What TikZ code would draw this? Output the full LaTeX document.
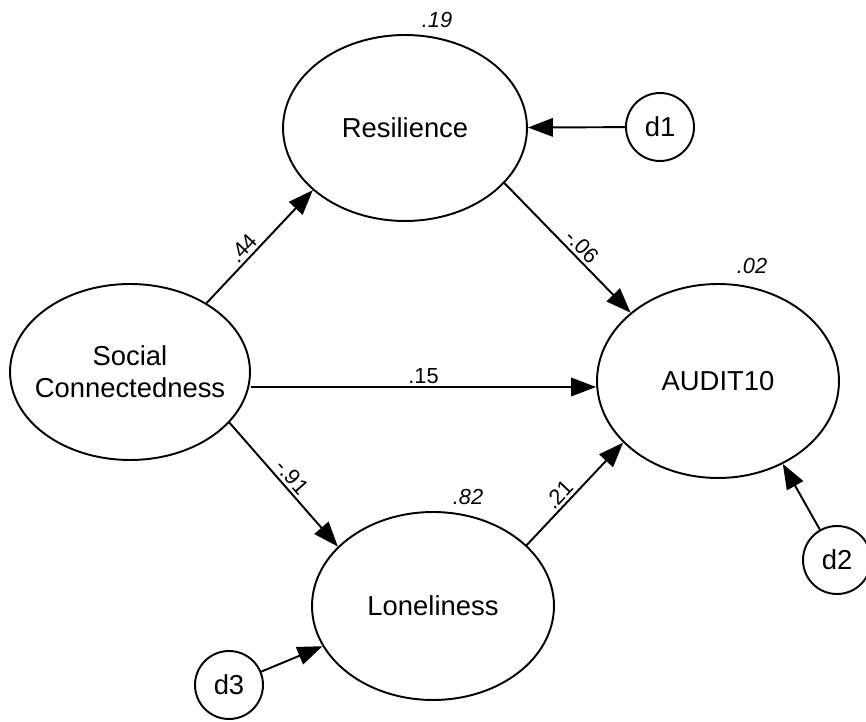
\documentclass[tikz,border=0pt]{standalone}
\usepackage{fontspec}
\setmainfont{Liberation Sans}
\usetikzlibrary{shapes.geometric,arrows.meta}
\begin{document}
\begin{tikzpicture}[x=0.02cm,y=-0.02cm,
  latent/.style={draw, ellipse, line width=1.1pt, inner sep=0pt},
  errvar/.style={draw, circle, line width=1.1pt, inner sep=0pt, minimum size=1.36cm,
    font=\fontsize{15.6}{18}\selectfont},
  regpath/.style={line width=1.1pt, -{Triangle[length=0.5cm,width=0.37cm]}},
  coef/.style={font=\fontsize{12.4}{14}\selectfont, inner sep=1.5pt},
  rsq/.style={font=\fontsize{12.4}{14}\selectfont\itshape},
  lbl/.style={font=\fontsize{15.6}{18}\selectfont, align=center}]
\useasboundingbox (0,0) rectangle (866,722);

% latent variables
\node[latent, minimum width=4.88cm, minimum height=3.72cm,
      label={[lbl]center:Resilience}] (res) at (405,128) {};
\node[latent, minimum width=4.80cm, minimum height=3.52cm,
      label={[lbl]center:Social\\Connectedness}] (sc) at (130,372) {};
\node[latent, minimum width=4.84cm, minimum height=3.88cm,
      label={[lbl]center:AUDIT10}] (aud) at (718,381) {};
\node[latent, minimum width=4.84cm, minimum height=3.76cm,
      label={[lbl]center:Loneliness}] (lon) at (433,606) {};

% disturbances
\node[errvar] (d1) at (660,127) {d1};
\node[errvar] (d2) at (837,560) {d2};
\node[errvar] (d3) at (229,685) {d3};

% squared multiple correlations
\node[rsq] (r1) at (437,20) {.19};
\node[rsq] (r2) at (752,266) {.02};
\node[rsq] (r3) at (468,497) {.82};

% structural paths
\draw[regpath] (sc.42) -- node[coef, sloped, above, pos=0.42] (p1) {.44} (res.214);
\draw[regpath] (res.-29) -- node[coef, sloped, above, pos=0.55] (p2) {-.06} (aud.142);
\draw[regpath] ([yshift=-0.3cm]sc.east) -- node[coef, above, pos=0.5] (p3) {.15}
  ([yshift=-0.12cm]aud.west);
\draw[regpath] (sc.-27) -- node[coef, sloped, above, pos=0.5] (p4) {-.91} (lon.148);
\draw[regpath] (lon.33) -- node[coef, sloped, above, pos=0.42] (p5) {.21} (aud.213);

% disturbance paths
\draw[regpath] (d1) -- (res);
\draw[regpath] (d2) -- (aud.-52);
\draw[regpath] (d3) -- (lon.200);
\end{tikzpicture}
\end{document}
